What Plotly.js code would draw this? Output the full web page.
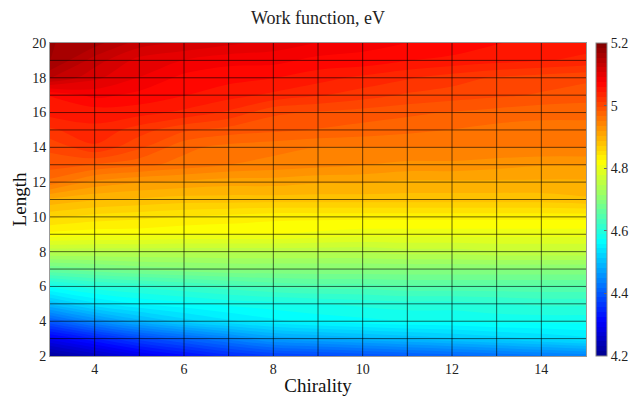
<!DOCTYPE html>
<html>
<head>
<meta charset="utf-8">
<script src="https://cdn.plot.ly/plotly-3.0.1.min.js"></script>
<style>
  html, body { margin: 0; padding: 0; background: #fff; }
  #chart { width: 631px; height: 397px; }
</style>
</head>
<body>
<div id="chart"></div>
<script>
// Nanotube chirality index (columns) and length (rows)
const chirality = [3, 4, 5, 6, 7, 8, 9, 10, 11, 12, 13, 14, 15];
const lengths = [2, 3, 4, 5, 6, 7, 8, 9, 10, 11, 12, 13, 14, 15, 16, 17, 18, 19, 20];

// Work function (eV), one row per length, one column per chirality
const wL2  = [4.21, 4.25, 4.29, 4.32, 4.35, 4.37, 4.38, 4.39, 4.40, 4.41, 4.42, 4.43, 4.44];
const wL3  = [4.30, 4.34, 4.38, 4.41, 4.44, 4.47, 4.48, 4.49, 4.50, 4.51, 4.52, 4.53, 4.54];
const wL4  = [4.40, 4.45, 4.49, 4.52, 4.54, 4.555, 4.565, 4.57, 4.575, 4.575, 4.58, 4.58, 4.58];
const wL5  = [4.50, 4.54, 4.56, 4.57, 4.58, 4.585, 4.59, 4.595, 4.60, 4.60, 4.605, 4.61, 4.61];
const wL6  = [4.58, 4.60, 4.61, 4.62, 4.63, 4.64, 4.645, 4.645, 4.65, 4.65, 4.65, 4.65, 4.65];
const wL7  = [4.67, 4.68, 4.69, 4.695, 4.70, 4.70, 4.70, 4.70, 4.70, 4.70, 4.70, 4.70, 4.70];
const wL8  = [4.75, 4.75, 4.75, 4.75, 4.75, 4.75, 4.75, 4.75, 4.755, 4.755, 4.76, 4.76, 4.76];
const wL9  = [4.82, 4.815, 4.815, 4.81, 4.81, 4.81, 4.805, 4.80, 4.80, 4.80, 4.80, 4.80, 4.80];
const wL10 = [4.86, 4.85, 4.845, 4.84, 4.835, 4.83, 4.83, 4.83, 4.83, 4.83, 4.83, 4.83, 4.83];
const wL11 = [4.90, 4.89, 4.885, 4.88, 4.88, 4.88, 4.88, 4.88, 4.88, 4.88, 4.88, 4.88, 4.885];
const wL12 = [4.96, 4.93, 4.92, 4.915, 4.91, 4.91, 4.905, 4.905, 4.90, 4.90, 4.90, 4.90, 4.90];
const wL13 = [4.99, 4.98, 4.97, 4.96, 4.95, 4.945, 4.94, 4.935, 4.93, 4.93, 4.925, 4.92, 4.92];
const wL14 = [5.00, 5.025, 5.00, 4.97, 4.96, 4.955, 4.95, 4.95, 4.95, 4.95, 4.95, 4.95, 4.95];
const wL15 = [5.025, 5.04, 5.02, 5.00, 4.99, 4.985, 4.98, 4.975, 4.97, 4.965, 4.96, 4.96, 4.96];
const wL16 = [5.05, 5.05, 5.05, 5.04, 5.025, 5.00, 4.995, 4.99, 4.985, 4.98, 4.975, 4.97, 4.97];
const wL17 = [5.06, 5.08, 5.07, 5.06, 5.05, 5.04, 5.03, 5.02, 5.01, 5.005, 5.00, 4.995, 4.99];
const wL18 = [5.14, 5.11, 5.09, 5.07, 5.065, 5.06, 5.05, 5.04, 5.03, 5.02, 5.01, 5.005, 5.00];
const wL19 = [5.17, 5.13, 5.10, 5.09, 5.08, 5.08, 5.07, 5.07, 5.06, 5.055, 5.05, 5.045, 5.04];
const wL20 = [5.17, 5.16, 5.13, 5.12, 5.11, 5.10, 5.09, 5.08, 5.075, 5.07, 5.06, 5.055, 5.05];

const workFunction = [wL2, wL3, wL4, wL5, wL6, wL7, wL8, wL9, wL10, wL11,
                      wL12, wL13, wL14, wL15, wL16, wL17, wL18, wL19, wL20];

const xTicks = [4, 6, 8, 10, 12, 14];
const yTicks = [2, 4, 6, 8, 10, 12, 14, 16, 18, 20];
const cbarTicks = [4.2, 4.4, 4.6, 4.8, 5, 5.2];

// Jet colour map
const jet = [
  [0.000, 'rgb(0,0,143)'],
  [0.111, 'rgb(0,0,255)'],
  [0.365, 'rgb(0,255,255)'],
  [0.619, 'rgb(255,255,0)'],
  [0.873, 'rgb(255,0,0)'],
  [1.000, 'rgb(128,0,0)']
];

const serif = '"Liberation Serif", "DejaVu Serif", serif';

const trace = {
  type: 'contour',
  x: chirality,
  y: lengths,
  z: workFunction,
  colorscale: jet,
  zmin: 4.2,
  zmax: 5.2,
  autocontour: false,
  contours: { start: 4.2, end: 5.2, size: 1 / 64, coloring: 'fill', showlines: false },
  line: { width: 0 },
  hoverinfo: 'x+y+z',
  colorbar: {
    x: 1.0187, xanchor: 'left',
    y: 0.5, yanchor: 'middle',
    len: 1, lenmode: 'fraction',
    thickness: 11,
    outlinewidth: 1, outlinecolor: '#888',
    tickvals: cbarTicks,
    ticktext: cbarTicks.map(String),
    ticks: 'inside', ticklen: 3, tickcolor: '#666',
    tickfont: { family: serif, size: 14, color: '#222' },
    xpad: 0, ypad: 0
  }
};

// Mesh lines along every chirality / length sample
const mesh = [];
chirality.slice(1, -1).forEach(v => mesh.push({
  type: 'line', xref: 'x', yref: 'paper', x0: v, x1: v, y0: 0, y1: 1,
  line: { color: 'rgba(0,0,0,0.6)', width: 1 }, layer: 'above'
}));
lengths.slice(1, -1).forEach(v => mesh.push({
  type: 'line', xref: 'paper', yref: 'y', x0: 0, x1: 1, y0: v, y1: v,
  line: { color: 'rgba(0,0,0,0.6)', width: 1 }, layer: 'above'
}));

const layout = {
  width: 631, height: 397,
  margin: { l: 50, r: 45, t: 43, b: 41, autoexpand: false },
  paper_bgcolor: '#fff', plot_bgcolor: '#fff',
  font: { family: serif, color: '#222' },
  title: {
    text: 'Work function, eV',
    font: { family: serif, size: 18, color: '#222' },
    x: 0.504, xanchor: 'center', y: 0.955, yanchor: 'middle'
  },
  xaxis: {
    range: [3, 15], tickvals: xTicks, ticktext: xTicks.map(String),
    showgrid: false, zeroline: false,
    showline: true, linecolor: '#999', linewidth: 1, mirror: true,
    ticks: '', tickfont: { family: serif, size: 14, color: '#222' },
    title: { text: 'Chirality', font: { family: serif, size: 19, color: '#111' }, standoff: 2 }
  },
  yaxis: {
    range: [2, 20], tickvals: yTicks, ticktext: yTicks.map(String),
    showgrid: false, zeroline: false,
    showline: true, linecolor: '#999', linewidth: 1, mirror: true,
    ticks: '', tickfont: { family: serif, size: 14, color: '#222' },
    title: { text: 'Length', font: { family: serif, size: 19, color: '#111' }, standoff: 0 }
  },
  shapes: mesh
};

Plotly.newPlot('chart', [trace], layout, { displayModeBar: false, staticPlot: true });
</script>
</body>
</html>
